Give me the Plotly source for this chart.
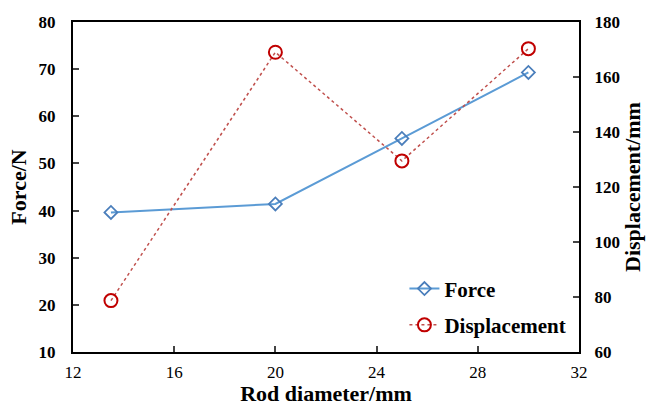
import plotly.graph_objects as go

# Rod diameter (mm) and measured response
rod_diameter = [13.5, 20, 25, 30]
force_n = [39.6, 41.4, 55.3, 69.3]
displacement_mm = [78.7, 169.0, 129.5, 170.3]

x_ticks = [12, 16, 20, 24, 28, 32]
force_ticks = [10, 20, 30, 40, 50, 60, 70, 80]
disp_ticks = [60, 80, 100, 120, 140, 160, 180]

font_family = "Liberation Serif"
tick_font = dict(family=font_family, size=17, color="black", weight="bold")
x_tick_font = dict(family=font_family, size=17, color="black")
title_font = dict(family=font_family, size=22, color="black", weight="bold")

fig = go.Figure()
fig.add_trace(go.Scatter(
    x=rod_diameter, y=force_n, name="Force", mode="lines+markers",
    legendgroup="force",
    line=dict(color="#5B9BD5", width=2),
    marker=dict(symbol="diamond-open", size=10, color="#4A7EBB", line=dict(width=1.8)),
    yaxis="y",
))
fig.add_trace(go.Scatter(
    x=rod_diameter, y=displacement_mm, name="Displacement", mode="lines+markers",
    legendgroup="disp",
    line=dict(color="#C0504D", width=1.5, dash="dot"),
    marker=dict(symbol="circle-open", size=13, color="#C00000", line=dict(width=2)),
    yaxis="y2",
))

fig.update_layout(
    width=646, height=406,
    margin=dict(l=73, r=67, t=22, b=54),
    font=dict(family=font_family, color="black"),
    paper_bgcolor="white", plot_bgcolor="white",
    showlegend=True,
    legend=dict(x=0.655, y=0.02, xanchor="left", yanchor="bottom",
                font=dict(family=font_family, size=21, color="black", weight="bold"),
                bgcolor="rgba(0,0,0,0)", tracegroupgap=6, itemwidth=30),
    xaxis=dict(
        range=[12, 32], tickvals=x_ticks, ticks="inside", ticklen=6, tickwidth=1.5,
        showline=True, linecolor="black", linewidth=2, mirror=True, automargin=False,
        showgrid=False, zeroline=False, tickfont=x_tick_font, ticklabelstandoff=4,
        title=dict(text="Rod diameter/mm", font=title_font, standoff=6),
    ),
    yaxis=dict(
        range=[10, 80], tickvals=force_ticks, ticks="inside", ticklen=6, tickwidth=1.5,
        showline=True, linecolor="black", linewidth=2, automargin=False,
        showgrid=False, zeroline=False, tickfont=tick_font, ticklabelstandoff=12,
        title=dict(text="Force/N", font=title_font, standoff=6),
    ),
    yaxis2=dict(
        range=[60, 180], tickvals=disp_ticks, ticks="inside", ticklen=6, tickwidth=1.5,
        overlaying="y", side="right", automargin=False,
        showline=True, linecolor="black", linewidth=2,
        showgrid=False, zeroline=False, tickfont=tick_font, ticklabelstandoff=10,
        title=dict(text="Displacement/mm", font=title_font, standoff=6),
    ),
)

fig.write_html("out.html")
